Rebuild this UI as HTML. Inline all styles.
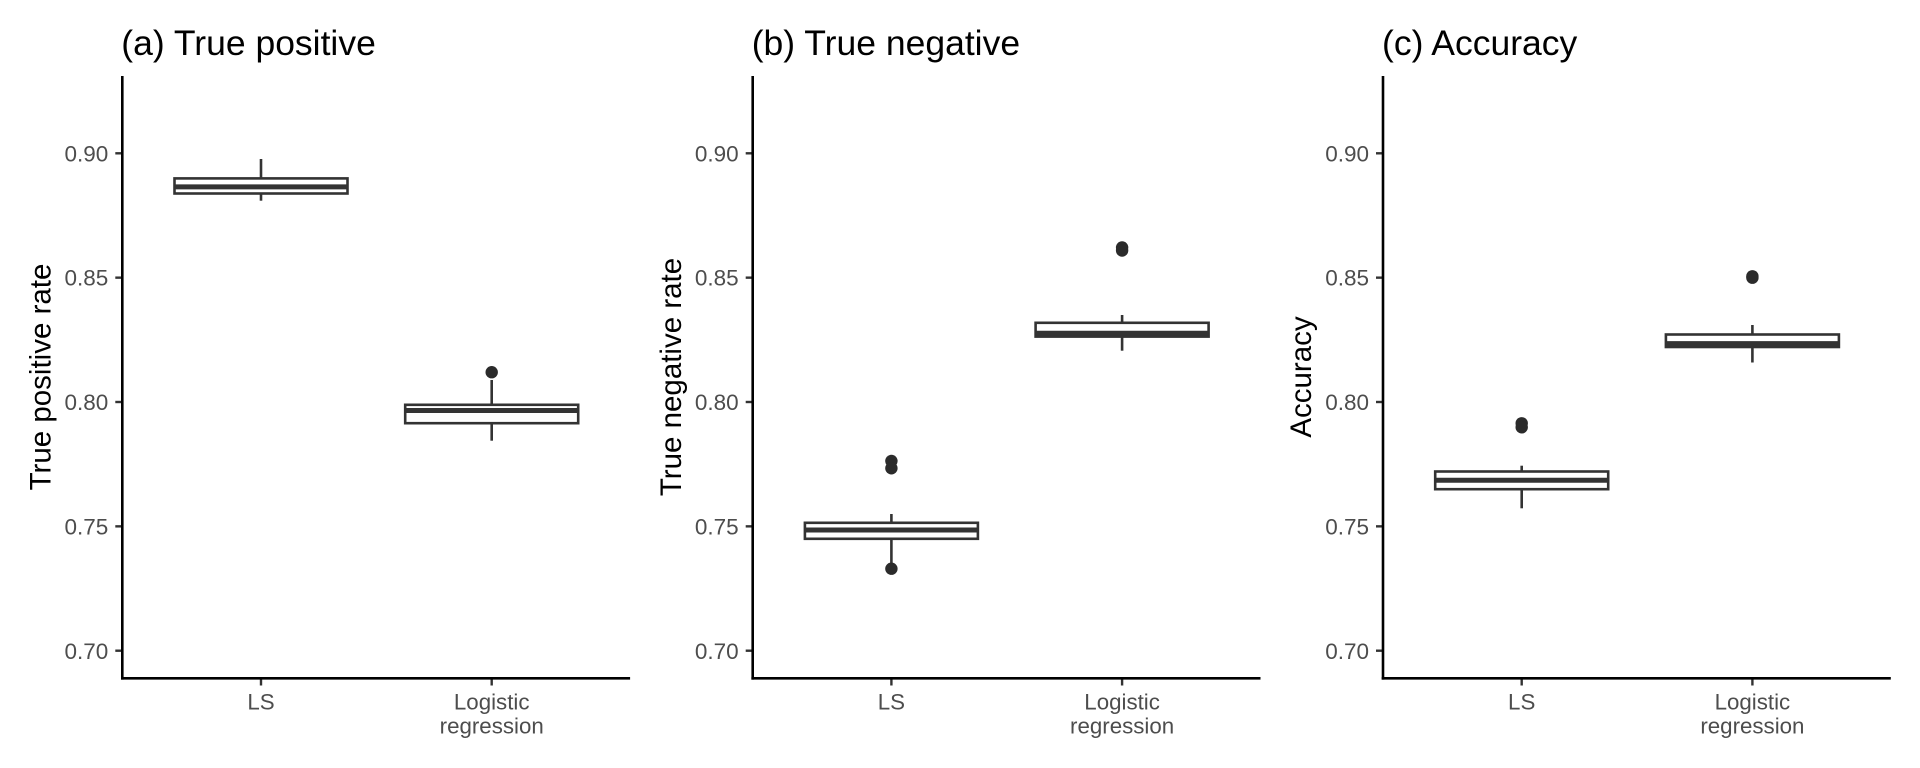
<!DOCTYPE html>
<html>
<head>
<meta charset="utf-8">
<style>
  html, body { margin: 0; padding: 0; background: #ffffff; }
  svg { display: block; }
  text { font-family: "Liberation Sans", Arial, sans-serif; }
</style>
</head>
<body>
<svg width="1920" height="768" viewBox="0 0 1920 768" xmlns="http://www.w3.org/2000/svg">
  <rect x="0" y="0" width="1920" height="768" fill="#ffffff"/>

  <!-- ===== Panel A ===== -->
  <g transform="translate(122.3,0)">
    <text x="-1" y="55" font-size="35.5" fill="#000">(a) True positive</text>
    <g stroke="#333" stroke-width="2.4">
      <line x1="-7" y1="153.3" x2="0" y2="153.3"/>
      <line x1="-7" y1="277.65" x2="0" y2="277.65"/>
      <line x1="-7" y1="402" x2="0" y2="402"/>
      <line x1="-7" y1="526.35" x2="0" y2="526.35"/>
      <line x1="-7" y1="650.7" x2="0" y2="650.7"/>
      <line x1="138.7" y1="678.3" x2="138.7" y2="685.5"/>
      <line x1="369.4" y1="678.3" x2="369.4" y2="685.5"/>
    </g>
    <g font-size="22.5" fill="#4D4D4D" text-anchor="end">
      <text x="-14" y="161.4">0.90</text>
      <text x="-14" y="285.7">0.85</text>
      <text x="-14" y="410.1">0.80</text>
      <text x="-14" y="534.4">0.75</text>
      <text x="-14" y="658.8">0.70</text>
    </g>
    <g font-size="22.3" fill="#4D4D4D" text-anchor="middle">
      <text x="138.7" y="709.3">LS</text>
      <text x="369.4" y="709.3">Logistic</text>
      <text x="369.4" y="733.6">regression</text>
    </g>
    <text transform="translate(-71.8,377) rotate(-90)" font-size="29.5" fill="#000" text-anchor="middle">True positive rate</text>
    <g stroke="#000" stroke-width="2.6" fill="none">
      <line x1="0" y1="76" x2="0" y2="679.6"/>
      <line x1="-1.3" y1="678.3" x2="507.8" y2="678.3"/>
    </g>
    <g stroke="#333" stroke-width="2.6" fill="#fff">
      <line x1="138.7" y1="159" x2="138.7" y2="178.4"/>
      <line x1="138.7" y1="193.5" x2="138.7" y2="200.7"/>
      <rect x="52.2" y="178.4" width="173" height="15.1"/>
      <line x1="52.2" y1="186.9" x2="225.2" y2="186.9" stroke-width="5"/>
    </g>
    <g stroke="#333" stroke-width="2.6" fill="#fff">
      <line x1="369.4" y1="380" x2="369.4" y2="404.8"/>
      <line x1="369.4" y1="423.2" x2="369.4" y2="440.7"/>
      <rect x="282.9" y="404.8" width="173" height="18.4"/>
      <line x1="282.9" y1="410.5" x2="455.9" y2="410.5" stroke-width="5"/>
    </g>
    <circle cx="369.4" cy="372.2" r="6.2" fill="#2b2b2b"/>
  </g>

  <!-- ===== Panel B ===== -->
  <g transform="translate(752.7,0)">
    <text x="-1" y="55" font-size="35.5" fill="#000">(b) True negative</text>
    <g stroke="#333" stroke-width="2.4">
      <line x1="-7" y1="153.3" x2="0" y2="153.3"/>
      <line x1="-7" y1="277.65" x2="0" y2="277.65"/>
      <line x1="-7" y1="402" x2="0" y2="402"/>
      <line x1="-7" y1="526.35" x2="0" y2="526.35"/>
      <line x1="-7" y1="650.7" x2="0" y2="650.7"/>
      <line x1="138.7" y1="678.3" x2="138.7" y2="685.5"/>
      <line x1="369.4" y1="678.3" x2="369.4" y2="685.5"/>
    </g>
    <g font-size="22.5" fill="#4D4D4D" text-anchor="end">
      <text x="-14" y="161.4">0.90</text>
      <text x="-14" y="285.7">0.85</text>
      <text x="-14" y="410.1">0.80</text>
      <text x="-14" y="534.4">0.75</text>
      <text x="-14" y="658.8">0.70</text>
    </g>
    <g font-size="22.3" fill="#4D4D4D" text-anchor="middle">
      <text x="138.7" y="709.3">LS</text>
      <text x="369.4" y="709.3">Logistic</text>
      <text x="369.4" y="733.6">regression</text>
    </g>
    <text transform="translate(-71.8,377) rotate(-90)" font-size="29.5" fill="#000" text-anchor="middle">True negative rate</text>
    <g stroke="#000" stroke-width="2.6" fill="none">
      <line x1="0" y1="76" x2="0" y2="679.6"/>
      <line x1="-1.3" y1="678.3" x2="507.8" y2="678.3"/>
    </g>
    <g stroke="#333" stroke-width="2.6" fill="#fff">
      <line x1="138.7" y1="514" x2="138.7" y2="522.8"/>
      <line x1="138.7" y1="538.8" x2="138.7" y2="563"/>
      <rect x="52.2" y="522.8" width="173" height="16"/>
      <line x1="52.2" y1="530" x2="225.2" y2="530" stroke-width="5"/>
    </g>
    <circle cx="138.7" cy="461" r="6.2" fill="#2b2b2b"/>
    <circle cx="138.7" cy="468.3" r="6.2" fill="#2b2b2b"/>
    <circle cx="138.7" cy="568.7" r="6.2" fill="#2b2b2b"/>
    <g stroke="#333" stroke-width="2.6" fill="#fff">
      <line x1="369.4" y1="315" x2="369.4" y2="322.8"/>
      <line x1="369.4" y1="336.6" x2="369.4" y2="350.7"/>
      <rect x="282.9" y="322.8" width="173" height="13.8"/>
      <line x1="282.9" y1="333.2" x2="455.9" y2="333.2" stroke-width="5"/>
    </g>
    <circle cx="369.4" cy="247.5" r="6.2" fill="#2b2b2b"/>
    <circle cx="369.4" cy="250.5" r="6.2" fill="#2b2b2b"/>
  </g>

  <!-- ===== Panel C ===== -->
  <g transform="translate(1383,0)">
    <text x="-1" y="55" font-size="35.5" fill="#000">(c) Accuracy</text>
    <g stroke="#333" stroke-width="2.4">
      <line x1="-7" y1="153.3" x2="0" y2="153.3"/>
      <line x1="-7" y1="277.65" x2="0" y2="277.65"/>
      <line x1="-7" y1="402" x2="0" y2="402"/>
      <line x1="-7" y1="526.35" x2="0" y2="526.35"/>
      <line x1="-7" y1="650.7" x2="0" y2="650.7"/>
      <line x1="138.7" y1="678.3" x2="138.7" y2="685.5"/>
      <line x1="369.4" y1="678.3" x2="369.4" y2="685.5"/>
    </g>
    <g font-size="22.5" fill="#4D4D4D" text-anchor="end">
      <text x="-14" y="161.4">0.90</text>
      <text x="-14" y="285.7">0.85</text>
      <text x="-14" y="410.1">0.80</text>
      <text x="-14" y="534.4">0.75</text>
      <text x="-14" y="658.8">0.70</text>
    </g>
    <g font-size="22.3" fill="#4D4D4D" text-anchor="middle">
      <text x="138.7" y="709.3">LS</text>
      <text x="369.4" y="709.3">Logistic</text>
      <text x="369.4" y="733.6">regression</text>
    </g>
    <text transform="translate(-71.8,377) rotate(-90)" font-size="29.5" fill="#000" text-anchor="middle">Accuracy</text>
    <g stroke="#000" stroke-width="2.6" fill="none">
      <line x1="0" y1="76" x2="0" y2="679.6"/>
      <line x1="-1.3" y1="678.3" x2="507.8" y2="678.3"/>
    </g>
    <g stroke="#333" stroke-width="2.6" fill="#fff">
      <line x1="138.7" y1="465.7" x2="138.7" y2="471.5"/>
      <line x1="138.7" y1="489.2" x2="138.7" y2="508.3"/>
      <rect x="52.2" y="471.5" width="173" height="17.7"/>
      <line x1="52.2" y1="480.2" x2="225.2" y2="480.2" stroke-width="5"/>
    </g>
    <circle cx="138.7" cy="423.3" r="6.2" fill="#2b2b2b"/>
    <circle cx="138.7" cy="427.3" r="6.2" fill="#2b2b2b"/>
    <g stroke="#333" stroke-width="2.6" fill="#fff">
      <line x1="369.4" y1="325" x2="369.4" y2="334.5"/>
      <line x1="369.4" y1="347" x2="369.4" y2="362.5"/>
      <rect x="282.9" y="334.5" width="173" height="12.5"/>
      <line x1="282.9" y1="343.6" x2="455.9" y2="343.6" stroke-width="5"/>
    </g>
    <circle cx="369.4" cy="276.3" r="6.2" fill="#2b2b2b"/>
    <circle cx="369.4" cy="277.7" r="6.2" fill="#2b2b2b"/>
  </g>
</svg>
</body>
</html>
